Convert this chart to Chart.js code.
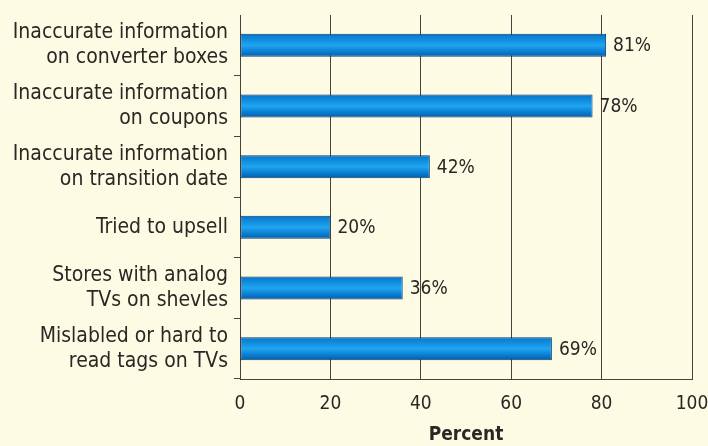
<!DOCTYPE html>
<html lang="en">
<head>
<meta charset="UTF-8">
<title>Retailer problems</title>
<script src="https://cdn.jsdelivr.net/npm/chart.js"></script>
<style>
  html, body { margin: 0; padding: 0; background: #fdfbe4; }
  #wrap { width: 708px; height: 446px; position: relative; }
</style>
</head>
<body>
<div id="wrap"><canvas id="grafico"></canvas></div>
<script>
const categories = [
  ['Inaccurate information', 'on converter boxes'],
  ['Inaccurate information', 'on coupons'],
  ['Inaccurate information', 'on transition date'],
  ['Tried to upsell'],
  ['Stores with analog', 'TVs on shevles'],
  ['Mislabled or hard to', 'read tags on TVs']
];
const percentValues = [81, 78, 42, 20, 36, 69];
const xTicks = [0, 20, 40, 60, 80, 100];

const FONT = '"DejaVu Sans Condensed", "Liberation Sans Narrow", sans-serif';
const INK = '#2a2824';
const LINE = '#45433b';

// cylinder shading for each bar, built around the bar's centre on the y scale
function barGradient(ctx) {
  const chart = ctx.chart;
  const y = chart.scales.y;
  if (!y || ctx.dataIndex === undefined) return '#0a86d8';
  const c = y.getPixelForValue(ctx.dataIndex);
  if (!isFinite(c)) return '#0a86d8';
  const half = 12;
  const g = chart.ctx.createLinearGradient(0, c - half, 0, c + half);
  g.addColorStop(0, '#08508f');
  g.addColorStop(0.1, '#0a7dd0');
  g.addColorStop(0.35, '#1496e6');
  g.addColorStop(0.5, '#22a4ee');
  g.addColorStop(0.7, '#0c88da');
  g.addColorStop(0.9, '#0868b8');
  g.addColorStop(1, '#074c8c');
  return g;
}

// percent label right of each bar
const valueLabels = {
  id: 'valueLabels',
  afterDatasetsDraw(chart) {
    const ctx = chart.ctx;
    const meta = chart.getDatasetMeta(0);
    ctx.save();
    ctx.font = '19px ' + FONT;
    ctx.fillStyle = INK;
    ctx.textBaseline = 'middle';
    ctx.textAlign = 'left';
    meta.data.forEach((bar, i) => {
      ctx.fillText(percentValues[i] + '%', bar.x + 7, bar.y + 1);
    });
    ctx.restore();
  }
};

new Chart(document.getElementById('grafico'), {
  type: 'bar',
  data: {
    labels: categories,
    datasets: [{
      data: percentValues,
      backgroundColor: barGradient,
      borderColor: '#073f78',
      borderWidth: 1,
      borderSkipped: false,
      barPercentage: 0.38,
      categoryPercentage: 1
    }]
  },
  options: {
    indexAxis: 'y',
    responsive: true,
    maintainAspectRatio: false,
    animation: false,
    layout: { padding: { top: 15, left: 0, right: 0, bottom: 0 } },
    plugins: {
      legend: { display: false },
      tooltip: { enabled: false }
    },
    scales: {
      x: {
        min: 0,
        max: 100,
        afterBuildTicks: (scale) => { scale.ticks = xTicks.map(v => ({ value: v })); },
        afterFit: (scale) => {
          scale.height = 67;
          scale.paddingRight = 16;
        },
        grid: {
          color: (c) => c.tick && c.tick.value === 0 ? 'rgba(0,0,0,0)' : LINE,
          lineWidth: 1,
          drawTicks: false
        },
        border: { color: LINE, width: 1 },
        ticks: {
          color: INK,
          padding: 14,
          font: { family: FONT, size: 19, lineHeight: 1.2 }
        },
        title: {
          display: true,
          text: 'Percent',
          color: INK,
          padding: { top: 0, bottom: 0 },
          font: { family: FONT, size: 19, weight: 'bold', lineHeight: 1.1 }
        }
      },
      y: {
        afterFit: (scale) => {
          scale.width = 240;
          scale.paddingTop = 0;
          scale.paddingBottom = 0;
        },
        grid: {
          drawOnChartArea: false,
          drawTicks: true,
          tickLength: 6,
          color: (c) => c.index === 0 ? 'rgba(0,0,0,0)' : LINE
        },
        border: { color: LINE, width: 1 },
        ticks: {
          color: INK,
          padding: 6,
          font: { family: FONT, size: 21, lineHeight: 1.2 }
        }
      }
    }
  },
  plugins: [valueLabels]
});
</script>
</body>
</html>
